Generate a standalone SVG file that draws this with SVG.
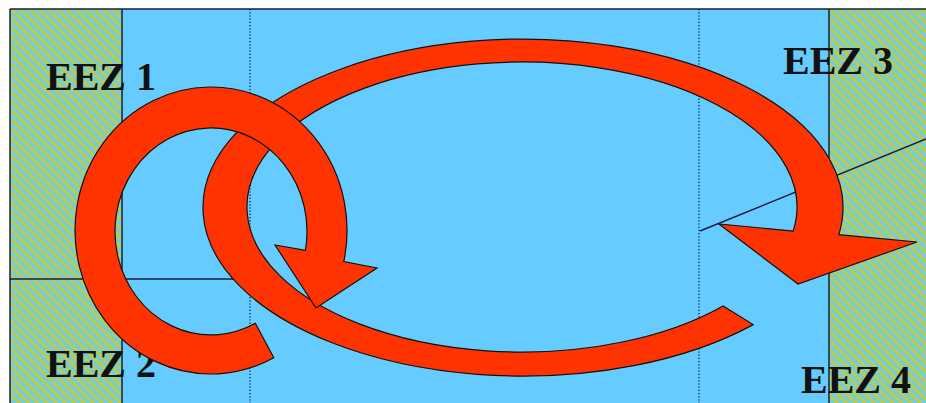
<svg xmlns="http://www.w3.org/2000/svg" width="926" height="403" viewBox="0 0 926 403">
  <defs>
    <pattern id="hatch" width="6.5" height="6.5" patternUnits="userSpaceOnUse" patternTransform="rotate(-45)">
      <rect width="6.5" height="6.5" fill="#6ECDEB"/>
      <rect width="3.2" height="6.5" fill="#C0CC40"/>
    </pattern>
  </defs>
  <style>
    .frame { stroke: #1c1c38; stroke-width: 1.5; fill: none; }
    .dot { stroke: #1a3388; stroke-width: 1.6; stroke-dasharray: 1.2 2; fill: none; }
    .lbl { font-family: "Liberation Serif", "Times New Roman", serif; font-weight: bold; font-size: 40px; fill: #111; }
    .arrow { fill: #FF3300; stroke: #111; stroke-width: 1.2; stroke-linejoin: miter; }
  </style>

  <rect x="0" y="0" width="926" height="403" fill="#ffffff"/>
  <rect x="10" y="9" width="916" height="394" fill="#66CCFF"/>

  <g id="eez1"><rect x="10" y="9" width="112" height="270" fill="url(#hatch)"/></g>
  <g id="eez2"><rect x="10" y="279" width="112" height="124" fill="url(#hatch)"/></g>
  <g id="eez3"><rect x="829" y="9" width="97" height="394" fill="url(#hatch)"/></g>

  <g id="grid">
    <line class="dot" x1="250" y1="9" x2="250" y2="403"/>
    <line class="dot" x1="699" y1="9" x2="699" y2="403"/>
    <line class="frame" x1="10" y1="9" x2="926" y2="9"/>
    <line class="frame" x1="10" y1="9" x2="10" y2="403"/>
    <line class="frame" x1="122" y1="9" x2="122" y2="403"/>
    <line class="frame" x1="829" y1="9" x2="829" y2="403"/>
    <line class="frame" x1="10" y1="279" x2="238" y2="279"/>
    <line class="frame" x1="700" y1="231" x2="926" y2="139"/>
  </g>

  <g id="labels">
    <text class="lbl" x="46" y="90">EEZ 1</text>
    <text class="lbl" x="46" y="377">EEZ 2</text>
    <text class="lbl" x="783" y="74">EEZ 3</text>
    <text class="lbl" x="801" y="393">EEZ 4</text>
  </g>

  <g id="arrows">
    <path id="big-loop" class="arrow" d="M 753.2 324.6 A 320 168.5 0 1 1 838.8 234.7 L 917 242 L 798 284 L 719 224 L 793.2 231 A 275 145 0 1 0 723.1 305.9 Z"/>
    <path id="small-loop" class="arrow" d="M 273.8 357.8 A 136 143.5 0 1 1 343.8 261.6 L 377 268 L 316 308 L 275 245 L 305.4 250.4 A 96 103.5 0 1 0 255.3 323.3 Z"/>
  </g>
</svg>
